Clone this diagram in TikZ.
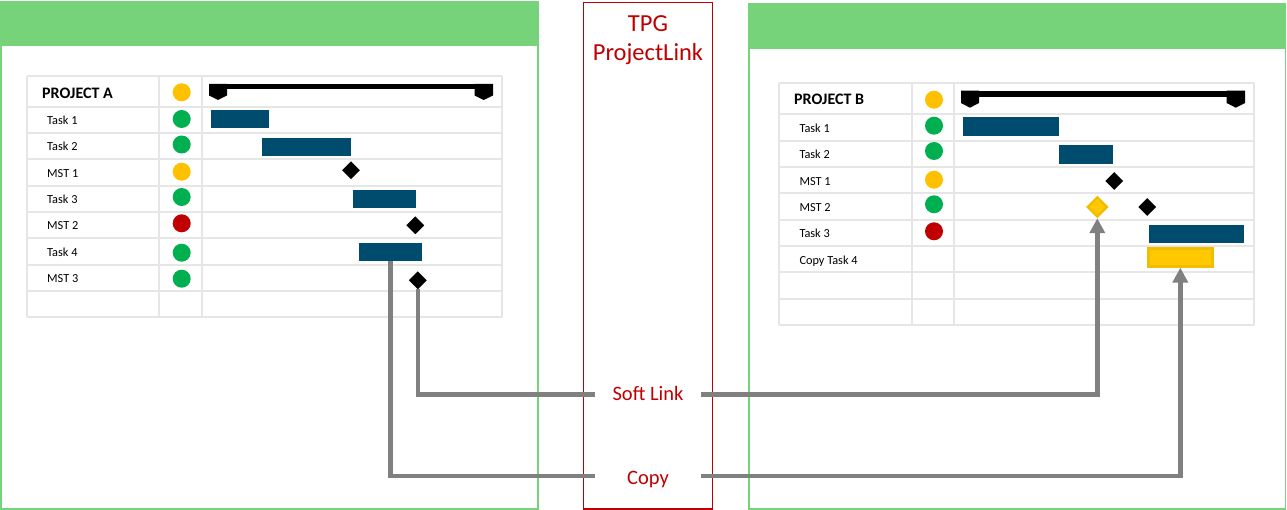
\documentclass[tikz,border=0pt]{standalone}
\usepackage{fontspec}
\setmainfont{Carlito}
\usetikzlibrary{shapes.geometric,arrows.meta}
\definecolor{hdrgreen}{HTML}{77D37A}
\definecolor{tblgray}{HTML}{E6E6E6}
\definecolor{barblue}{HTML}{004C6F}
\definecolor{styel}{HTML}{FFC000}
\definecolor{stgreen}{HTML}{00B050}
\definecolor{stred}{HTML}{C00000}
\definecolor{tpgred}{HTML}{C00000}
\definecolor{linkgray}{HTML}{808080}
\definecolor{copyfill}{HTML}{FFC800}
\definecolor{copyedge}{HTML}{F0BE00}
\tikzset{
  panel/.style={draw=hdrgreen, line width=1.5pt},
  header/.style={fill=hdrgreen},
  gridline/.style={draw=tblgray, line width=2pt},
  tasklbl/.style={anchor=base west, inner sep=0pt, font=\fontsize{12.3}{14}\selectfont},
  projlbl/.style={anchor=base west, inner sep=0pt, font=\bfseries\fontsize{16}{18}\selectfont},
  status/.style={circle, minimum size=18pt, inner sep=0pt},
  taskbar/.style={fill=barblue, inner sep=0pt, minimum height=17.7pt},
  milestone/.style={diamond, fill=black, minimum width=18pt, minimum height=18pt, inner sep=0pt},
  yelmile/.style={diamond, fill=copyfill, draw=copyedge, line width=2.5pt, minimum width=20pt, minimum height=20pt, inner sep=0pt},
  copybar/.style={fill=copyfill, draw=copyedge, line width=3pt, inner sep=0pt},
  link/.style={draw=linkgray, line width=4.6pt},
  linktip/.style={-{Triangle[width=15pt,length=15pt]}},
  linklbl/.style={text=tpgred, inner sep=0pt, minimum width=106pt, font=\fontsize{20.5}{24}\selectfont, text depth=0pt},
  tpglbl/.style={text=tpgred, anchor=base, inner sep=0pt, font=\fontsize{24.5}{29}\selectfont},
  sumbar/.style={fill=black},
}
\begin{document}
\begin{tikzpicture}[x=1pt,y=-1pt]
\useasboundingbox (0,0) rectangle (1287,510);
\fill[white] (0,0) rectangle (1287,510);

% ---------- panels ----------
\draw[panel] (0.75,2) rectangle (538,509);
\fill[header] (0,2) rectangle (538.75,46);
\draw[panel] (749,4) rectangle (1285.5,509);
\fill[header] (748.25,4) rectangle (1286.25,49.3);
\draw[tpgred, line width=1.4pt] (583.6,2.5) rectangle (712.3,509);
\node[tpglbl] (tpg1) at (648,31.7) {TPG};
\node[tpglbl] (tpg2) at (648,61) {ProjectLink};

% ---------- left table grid ----------
\foreach \y in {75.7,106.7,133,159.3,185.7,212,238.3,264.7,290.7,317}
  \draw[gridline] (26.7,\y) -- (501.7,\y);
\foreach \x in {26.7,159.3,201.7,501.7}
  \draw[gridline] (\x,75.7) -- (\x,317);

\node[projlbl] (pa) at (42,98.3) {PROJECT A};
\node[tasklbl] (la1) at (47,124.8) {Task 1};
\node[tasklbl] (la2) at (47,151) {Task 2};
\node[tasklbl] (la3) at (47,177.5) {MST 1};
\node[tasklbl] (la4) at (47,204) {Task 3};
\node[tasklbl] (la5) at (47,230) {MST 2};
\node[tasklbl] (la6) at (47,256.5) {Task 4};
\node[tasklbl] (la7) at (47,282.7) {MST 3};

\node[status, fill=styel]   (sa0) at (181.7,92.3) {};
\node[status, fill=stgreen] (sa1) at (181.7,119) {};
\node[status, fill=stgreen] (sa2) at (181.7,144.5) {};
\node[status, fill=styel]   (sa3) at (181.7,171.7) {};
\node[status, fill=stgreen] (sa4) at (181.7,197) {};
\node[status, fill=stred]   (sa5) at (181.7,223.3) {};
\node[status, fill=stgreen] (sa6) at (181.7,252.7) {};
\node[status, fill=stgreen] (sa7) at (181.7,278.7) {};

% summary bar A
\fill[sumbar] (209,84) rectangle (493,89);
\fill[sumbar] (209,84) -- (227,84) -- (227,95.5) -- (218,100) -- (209,95.5) -- cycle;
\fill[sumbar] (474.5,84) -- (493,84) -- (493,95.5) -- (483.7,100) -- (474.5,95.5) -- cycle;

\node[taskbar, minimum width=58pt] (ta1) at (240,118.9) {};
\node[taskbar, minimum width=89pt] (ta2) at (306.5,146.9) {};
\node[milestone] (ma1) at (351,170.3) {};
\node[taskbar, minimum width=63pt] (ta3) at (384.5,198.9) {};
\node[milestone] (ma2) at (415.3,225.3) {};
\node[taskbar, minimum width=63pt] (ta4) at (390.7,251.9) {};
\node[milestone] (ma3) at (417.8,280.3) {};

% ---------- right table grid ----------
\foreach \y in {83.3,114.3,140.7,167,193.3,219.7,246,272.3,298.7,325}
  \draw[gridline] (779,\y) -- (1254,\y);
\foreach \x in {779,911.7,953.7,1254}
  \draw[gridline] (\x,83.3) -- (\x,325);

\node[projlbl] (pb) at (794,105) {PROJECT B};
\node[tasklbl] (lb1) at (799.3,132.5) {Task 1};
\node[tasklbl] (lb2) at (799.3,158.8) {Task 2};
\node[tasklbl] (lb3) at (799.3,185.2) {MST 1};
\node[tasklbl] (lb4) at (799.3,211.5) {MST 2};
\node[tasklbl] (lb5) at (799.3,237.8) {Task 3};
\node[tasklbl] (lb6) at (799.3,264.2) {Copy Task 4};

\node[status, fill=styel]   (sb0) at (934,99.7) {};
\node[status, fill=stgreen] (sb1) at (934,125.7) {};
\node[status, fill=stgreen] (sb2) at (934,151) {};
\node[status, fill=styel]   (sb3) at (934,179.7) {};
\node[status, fill=stgreen] (sb4) at (934,204.3) {};
\node[status, fill=stred]   (sb5) at (934,231.3) {};

% summary bar B
\fill[sumbar] (961,90.7) rectangle (1245,96.7);
\fill[sumbar] (961,90.7) -- (979,90.7) -- (979,103) -- (970,107.7) -- (961,103) -- cycle;
\fill[sumbar] (1226.7,90.7) -- (1245,90.7) -- (1245,103) -- (1235.8,107.7) -- (1226.7,103) -- cycle;

\node[taskbar, minimum width=96pt, minimum height=18.7pt] (tb1) at (1011,126.3) {};
\node[taskbar, minimum width=54pt, minimum height=18.7pt] (tb2) at (1086,154.3) {};
\node[milestone] (mb1) at (1114.3,181) {};
\node[yelmile] (mb2y) at (1097.3,207) {};
\node[milestone] (mb2) at (1147.3,207) {};
\node[taskbar, minimum width=95pt] (tb3) at (1196.5,233.8) {};
\node[copybar, minimum width=63.7pt, minimum height=17.3pt] (cb4) at (1180.3,257.5) {};

% ---------- links ----------
\node[linklbl, text height=12.4pt] (soft) at (648,394.3) {Soft Link};
\node[linklbl, text height=17.4pt] (copy) at (648,475.8) {Copy};

\draw[link] (ma3.south) -- (ma3.south |- soft.west) -- (soft.west);
\draw[link, linktip] (soft.east) -- (mb2y.south |- soft.east) -- (mb2y.south);
\draw[link] (ta4.south) -- (ta4.south |- copy.west) -- (copy.west);
\draw[link, linktip] (copy.east) -- (cb4.south |- copy.east) -- (cb4.south);
\end{tikzpicture}
\end{document}
